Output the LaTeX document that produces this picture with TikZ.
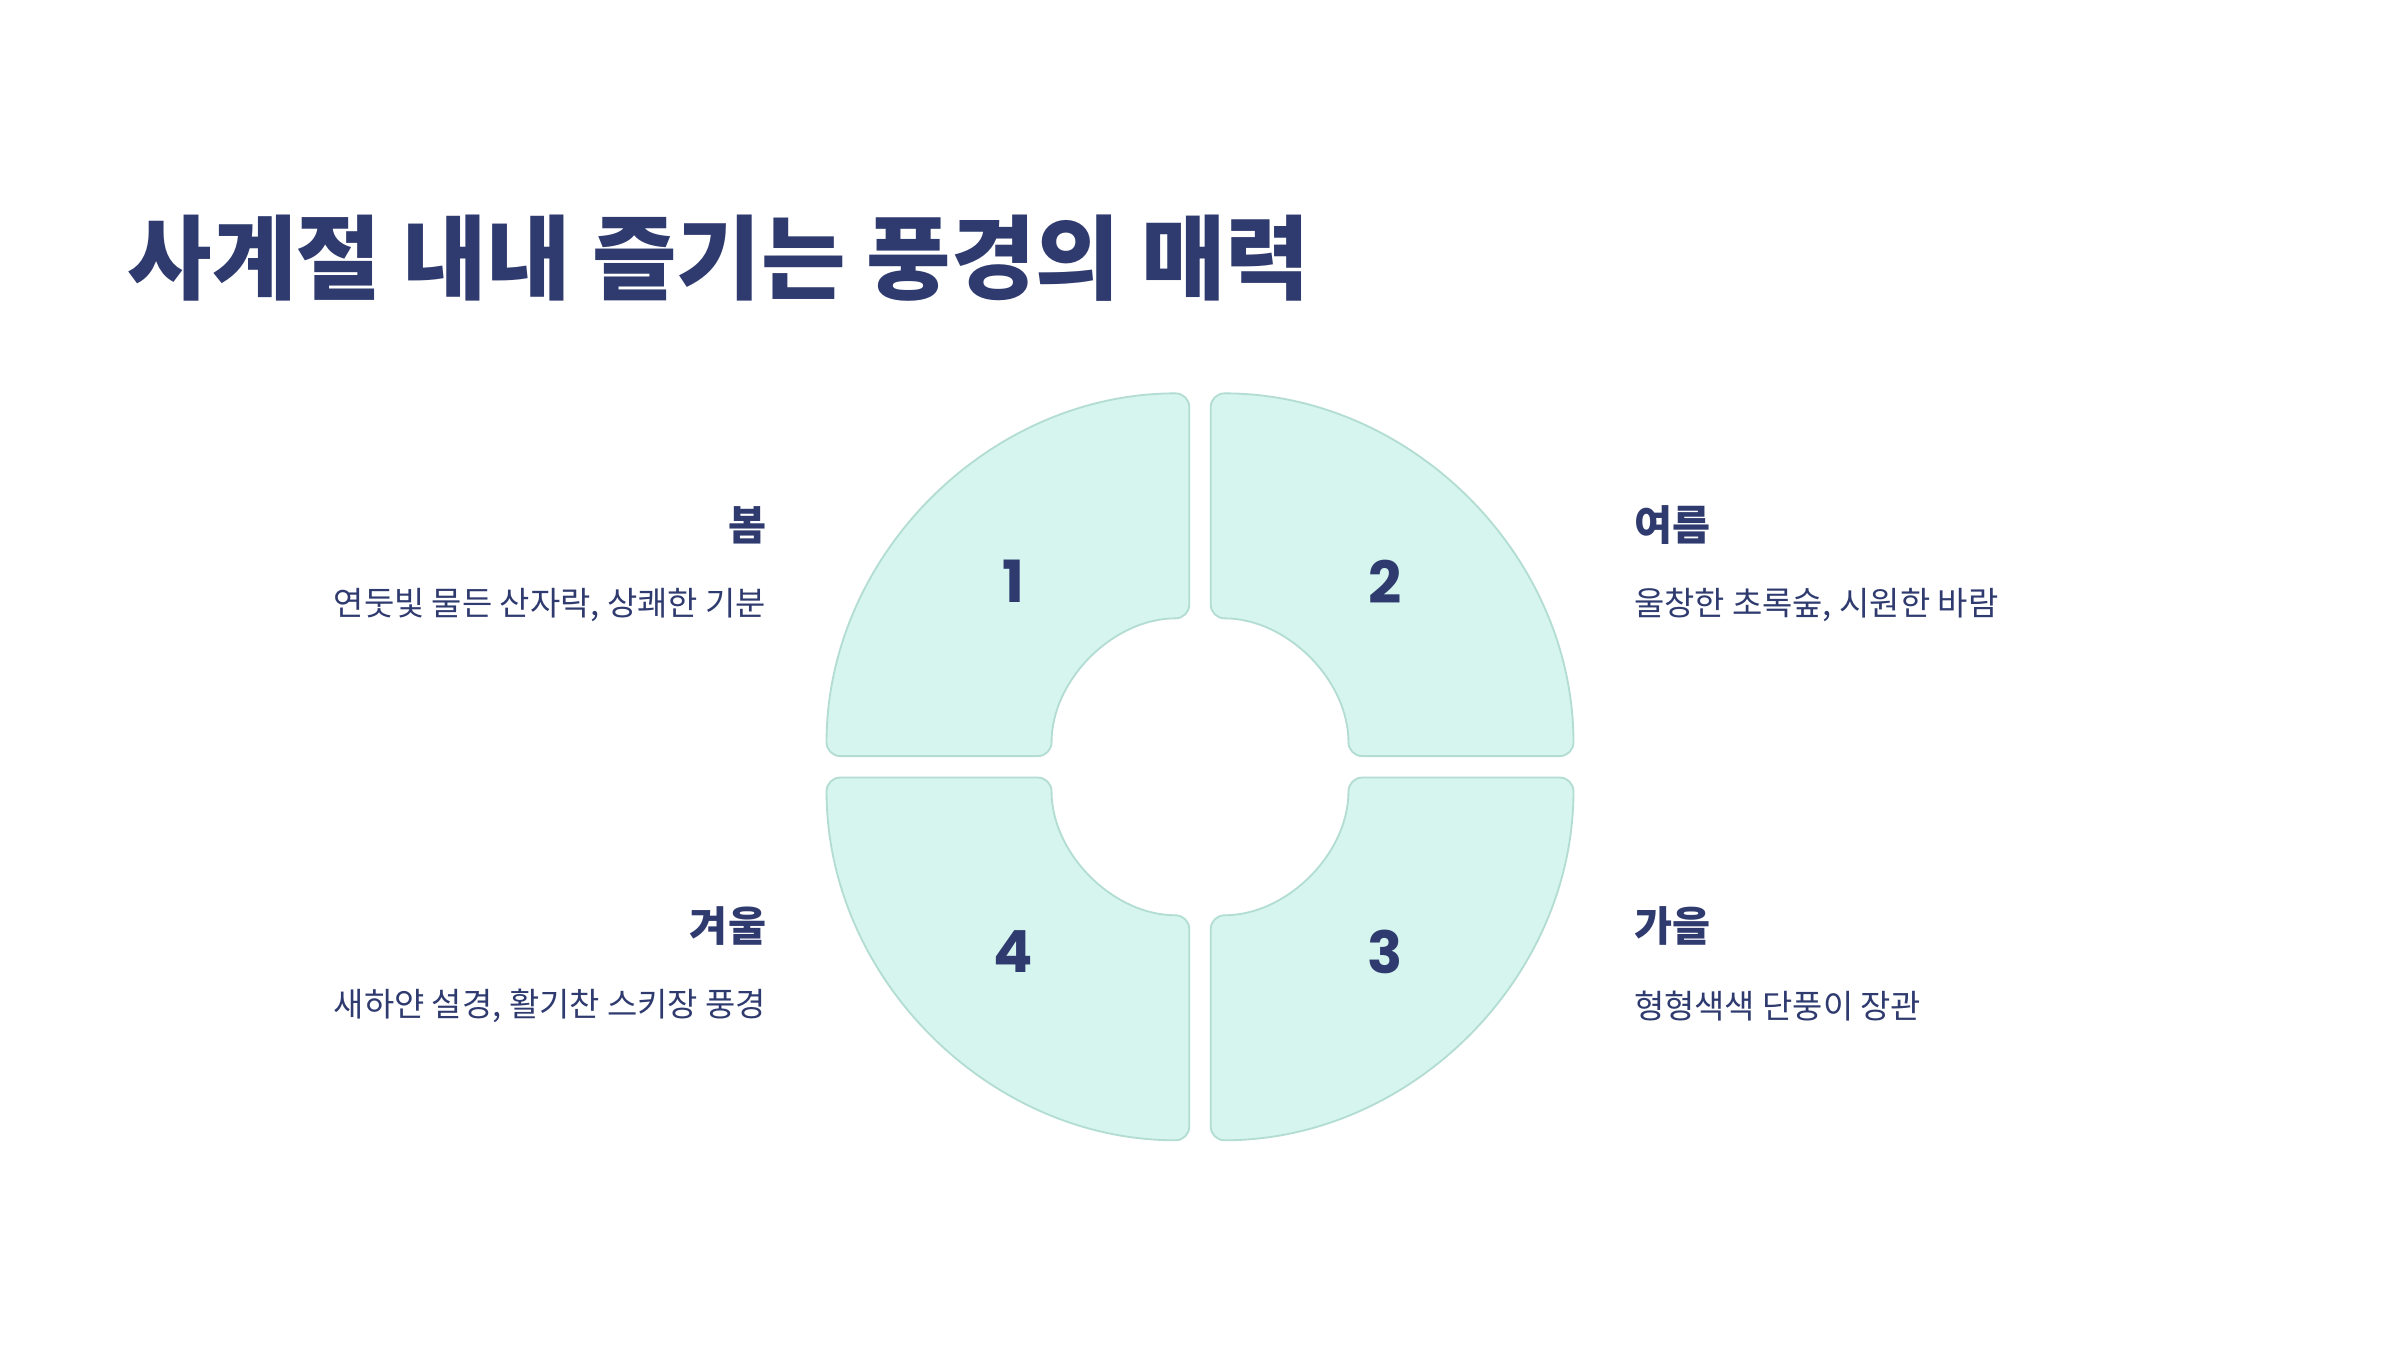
\documentclass[tikz,border=0pt]{standalone}
\usepackage{fontspec}
\newfontfamily\kr{Noto Sans CJK KR}
\newfontfamily\num{Poppins}
\definecolor{navy}{HTML}{2F3B6F}
\definecolor{qfill}{HTML}{D5F5EE}
\definecolor{qline}{HTML}{B3DDD2}
\begin{document}
\begin{tikzpicture}[x=1pt,y=1pt,
  quad/.style={fill=qfill,draw=qline,line width=1.2pt,rounded corners=9pt},
  numtxt/.style={text=navy,font=\num\bfseries\fontsize{38}{40}\selectfont},
  head/.style={text=navy,font=\kr\bfseries\fontsize{27}{30}\selectfont},
  body/.style={text=navy,font=\kr\fontsize{21.5}{26}\selectfont}]
\useasboundingbox[fill=white] (0,0) rectangle (1568,882);
\node[anchor=west,text=navy,font=\kr\bfseries\fontsize{60}{66}\selectfont] (title) at (80,713) {사계절 내내 즐기는 풍경의 매력};
\coordinate (c1) at (777,388);
\coordinate (c2) at (791,388);
\coordinate (c3) at (791,374);
\coordinate (c4) at (777,374);
\draw[quad] ([shift={(180:237)}]c1) arc[start angle=180,end angle=90,radius=237] -- ([shift={(90:90)}]c1) arc[start angle=90,end angle=180,radius=90] -- cycle;
\draw[quad] ([shift={(90:237)}]c2) arc[start angle=90,end angle=0,radius=237] -- ([shift={(0:90)}]c2) arc[start angle=0,end angle=90,radius=90] -- cycle;
\draw[quad] ([shift={(0:237)}]c3) arc[start angle=0,end angle=-90,radius=237] -- ([shift={(-90:90)}]c3) arc[start angle=-90,end angle=0,radius=90] -- cycle;
\draw[quad] ([shift={(270:237)}]c4) arc[start angle=270,end angle=180,radius=237] -- ([shift={(180:90)}]c4) arc[start angle=180,end angle=270,radius=90] -- cycle;
\node[numtxt] (n1) at (662,502) {1};
\node[numtxt] (n2) at (905,502) {2};
\node[numtxt] (n3) at (905,260) {3};
\node[numtxt] (n4) at (662,260) {4};
\node[head,anchor=east] (h1) at (504,539) {봄};
\node[body,anchor=east] (b1) at (504,487) {연둣빛 물든 산자락, 상쾌한 기분};
\node[head,anchor=west] (h2) at (1064,539) {여름};
\node[body,anchor=west] (b2) at (1064,487) {울창한 초록숲, 시원한 바람};
\node[head,anchor=east] (h4) at (504,277) {겨울};
\node[body,anchor=east] (b4) at (504,225) {새하얀 설경, 활기찬 스키장 풍경};
\node[head,anchor=west] (h3) at (1064,277) {가을};
\node[body,anchor=west] (b3) at (1064,225) {형형색색 단풍이 장관};
\end{tikzpicture}
\end{document}
